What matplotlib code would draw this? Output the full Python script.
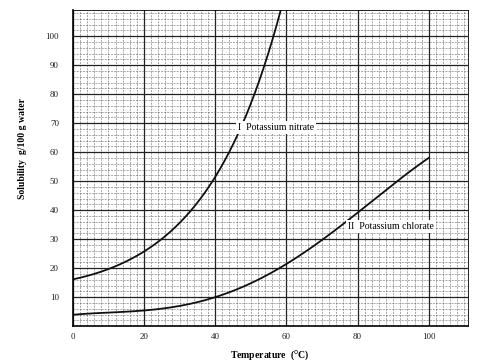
import matplotlib.pyplot as plt
from matplotlib.ticker import MultipleLocator
from numpy.polynomial import Polynomial
import numpy as np

# solubility readings (g per 100 g water) off the scanned graph
temp_nitrate = [0, 10, 20, 30, 40, 45, 50, 55, 60]
sol_nitrate = [16, 20, 26, 35, 50, 63, 79, 96, 114]

temp_chlorate = [0, 10, 20, 30, 40, 50, 60, 70, 80, 90, 100]
sol_chlorate = [4, 4.5, 5.5, 7, 10, 15, 21, 30, 39, 49, 58]

x_ticks = [0, 20, 40, 60, 80, 100]
y_ticks = [10, 20, 30, 40, 50, 60, 70, 80, 90, 100]

plt.rcParams['font.family'] = ['Liberation Serif', 'DejaVu Serif']

fig = plt.figure(figsize=(4.92, 3.62), dpi=100)
ax = fig.add_axes([0.148, 0.099, 0.803, 0.873])

# graph paper look
ax.xaxis.set_minor_locator(MultipleLocator(2))
ax.yaxis.set_minor_locator(MultipleLocator(2))
ax.xaxis.set_major_locator(MultipleLocator(10))
ax.yaxis.set_major_locator(MultipleLocator(10))
ax.grid(which='minor', color='#555555', linewidth=0.5, linestyle=(0, (3, 1.5)), alpha=0.7)
ax.grid(which='major', color='#222222', linewidth=0.9)
ax.set_axisbelow(True)

# smooth curves through the read-off points
# nitrate fitted in log space so it stays convex
p1 = Polynomial.fit(temp_nitrate, np.log(sol_nitrate), 3)
xx1 = np.linspace(0, 60, 300)
ax.plot(xx1, np.exp(p1(xx1)), color='#111111', linewidth=1.3)
p2 = Polynomial.fit(temp_chlorate, sol_chlorate, 4)
xx2 = np.linspace(0, 100, 300)
ax.plot(xx2, p2(xx2), color='#111111', linewidth=1.3)

ax.text(46.4, 68.5, 'I  Potassium nitrate', fontsize=7, va='center', ha='left',
        bbox=dict(facecolor='white', edgecolor='none', pad=1.5))
ax.text(77.3, 34.5, 'II  Potassium chlorate', fontsize=7, va='center', ha='left',
        bbox=dict(facecolor='white', edgecolor='none', pad=1.5))

ax.set_xlim(0, 111)
ax.set_ylim(0, 109)
ax.set_xticks(x_ticks)
ax.set_yticks(y_ticks)
ax.tick_params(which='both', length=0, labelsize=6.5, colors='#222222')
ax.tick_params(axis='y', pad=10)
ax.tick_params(axis='x', pad=5)

for s in ['left', 'bottom']:
    ax.spines[s].set_linewidth(1.2)
for s in ['top', 'right']:
    ax.spines[s].set_linewidth(0.6)

ax.set_xlabel('Temperature  ($^{\\mathrm{o}}$C)', fontsize=7, fontweight='bold', labelpad=5)
fig.text(0.045, 0.59, 'Solubility  g/100 g water', rotation=90, fontsize=7,
         fontweight='bold', va='center', ha='center')

fig.savefig('out.png', dpi=100)
